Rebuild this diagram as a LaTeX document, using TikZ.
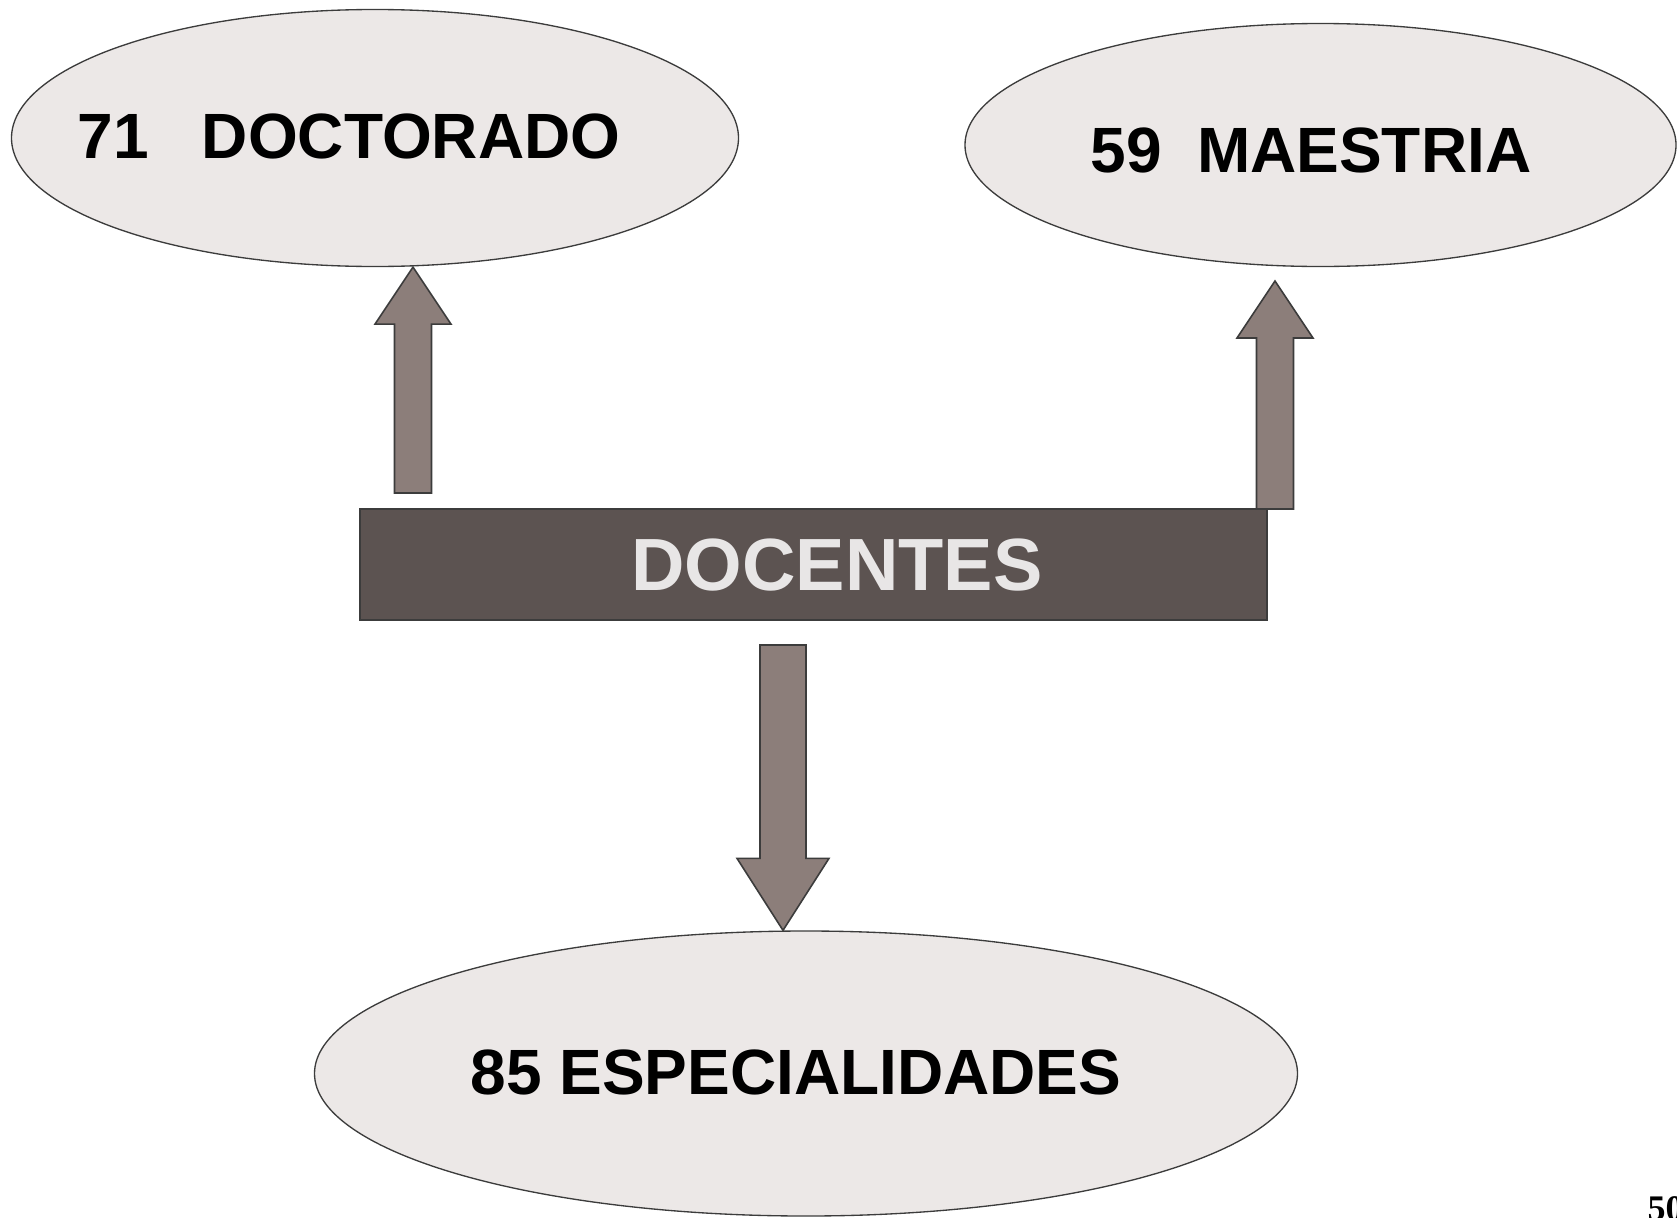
\documentclass[tikz,border=0pt]{standalone}
\usepackage{fontspec}
\setmainfont{Liberation Sans}
\newfontfamily\pagenumfont{Liberation Serif}
\usetikzlibrary{shapes.geometric,calc}

\tikzset{every picture/.style={line width=0.75pt}}
\definecolor{ovalfill}{RGB}{236,232,231}
\definecolor{arrowfill}{RGB}{140,126,122}
\definecolor{boxfill}{RGB}{92,83,81}
\definecolor{edgegray}{RGB}{60,60,60}
\definecolor{boxtext}{RGB}{232,230,230}
\tikzset{
  oval/.style={draw=edgegray, fill=ovalfill, ellipse, inner sep=0pt, line width=1pt},
  bigtext/.style={inner sep=0pt, font=\fontsize{48}{58}\selectfont\bfseries},
  blockarrow/.style={draw=edgegray, fill=arrowfill, line width=1.2pt, line join=miter}
}

\begin{document}
\begin{tikzpicture}[x=0.75pt,y=0.75pt,yscale=-1,xscale=1]
\useasboundingbox (0,0) rectangle (1677,1217);

%Shape: Ellipse [doctorado]
\node [oval, minimum width=545.25pt, minimum height=192.75pt] (doctorado) at (375,138) {};
%Shape: Ellipse [maestria]
\node [oval, minimum width=533.25pt, minimum height=182.25pt] (maestria) at (1320.5,145) {};
%Shape: Ellipse [especialidades]
\node [oval, minimum width=737.25pt, minimum height=213.75pt] (especialidades) at (806,1073.5) {};

%Shape: Rectangle [docentes]
\node [draw=edgegray, fill=boxfill, line width=1.2pt, inner sep=0pt, minimum width=680.25pt, minimum height=83.25pt] (docentes) at (813.5,564.5) {};

%Block Arrows
\coordinate (a1s) at (413,493);
\coordinate (a1t) at (doctorado.south -| a1s);
\draw [blockarrow] ($(a1s)+(-18.5,0)$) -- ($(a1t)+(-18.5,57)$) -- ($(a1t)+(-38,57)$) -- (a1t) -- ($(a1t)+(38,57)$) -- ($(a1t)+(18.5,57)$) -- ($(a1s)+(18.5,0)$) -- cycle ;

\coordinate (a2s) at (1275,509);
\coordinate (a2t) at (1275,281);
\draw [blockarrow] ($(a2s)+(-18.5,0)$) -- ($(a2t)+(-18.5,57)$) -- ($(a2t)+(-38,57)$) -- (a2t) -- ($(a2t)+(38,57)$) -- ($(a2t)+(18.5,57)$) -- ($(a2s)+(18.5,0)$) -- cycle ;

\coordinate (a3s) at (783,645);
\coordinate (a3t) at (especialidades.north -| a3s);
\draw [blockarrow] ($(a3s)+(-23,0)$) -- ($(a3t)+(-23,-72)$) -- ($(a3t)+(-46,-72)$) -- (a3t) -- ($(a3t)+(46,-72)$) -- ($(a3t)+(23,-72)$) -- ($(a3s)+(23,0)$) -- cycle ;

% Text Node
\node [bigtext] (t71) at (349,136) {71\hspace{0.83em}DOCTORADO};
% Text Node
\node [bigtext] (t59) at (1311,150) {59\hspace{0.55em}MAESTRIA};
% Text Node
\node [inner sep=0pt, text=boxtext, font=\fontsize{55.5}{66}\selectfont\bfseries] (tdoc) at (837,565) {DOCENTES};
% Text Node
\node [bigtext] (t85) at (796,1072) {85 ESPECIALIDADES};
% Text Node
\node [anchor=north west, inner sep=0pt, font=\pagenumfont\fontsize{27}{30}\selectfont\bfseries] (pagenum) at (1647,1196) {50};

\end{tikzpicture}
\end{document}
